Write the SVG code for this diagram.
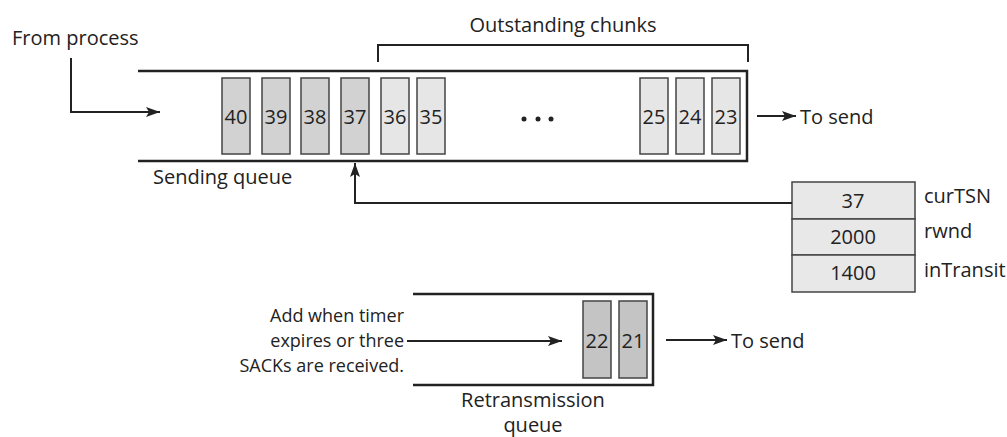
<svg xmlns="http://www.w3.org/2000/svg" width="1007" height="437" viewBox="0 0 1007 437">
<defs>
<marker id="ah" viewBox="0 0 14 10" refX="14" refY="5" markerWidth="14" markerHeight="10" markerUnits="userSpaceOnUse" orient="auto">
<path d="M0,0 L14,5 L0,10 L3,5 Z" fill="#222"/>
</marker>
<style>
text{font-family:"Open Sans","Liberation Sans",sans-serif;font-size:20px;fill:#222}
.n{text-anchor:middle}
.r{text-anchor:end;font-size:18px}
.line{stroke:#222;stroke-width:2;fill:none}
.wall{stroke:#222;stroke-width:2.5;fill:none}
.dk{fill:#d2d2d2;stroke:#444;stroke-width:1.5}
.lt{fill:#e6e6e6;stroke:#444;stroke-width:1.5}
.rt{fill:#c4c4c4;stroke:#444;stroke-width:1.5}
.tb{fill:#e8e8e8;stroke:#444;stroke-width:1.5}
</style>
</defs>
<rect width="1007" height="437" fill="#fff"/>

<g id="sending-queue">
<path class="wall" d="M138,71 H747 V161 H138"/>
<text x="153" y="184">Sending queue</text>
</g>

<g id="outstanding">
<path class="line" d="M378,62 V45 H748 V62" stroke-width="1.5"/>
<text class="n" x="563" y="32">Outstanding chunks</text>
</g>

<g id="chunk-40"><rect class="dk" x="222" y="78" width="28" height="76"/><text class="n" x="236" y="124">40</text></g>
<g id="chunk-39"><rect class="dk" x="262" y="78" width="28" height="76"/><text class="n" x="276" y="124">39</text></g>
<g id="chunk-38"><rect class="dk" x="301" y="78" width="28" height="76"/><text class="n" x="315" y="124">38</text></g>
<g id="chunk-37"><rect class="dk" x="341" y="78" width="28" height="76"/><text class="n" x="355" y="124">37</text></g>
<g id="chunk-36"><rect class="lt" x="381" y="78" width="28" height="76"/><text class="n" x="395" y="124">36</text></g>
<g id="chunk-35"><rect class="lt" x="417" y="78" width="28" height="76"/><text class="n" x="431" y="124">35</text></g>
<g id="dots"><circle cx="524" cy="119" r="2.5" fill="#222"/><circle cx="538" cy="119" r="2.5" fill="#222"/><circle cx="551" cy="119" r="2.5" fill="#222"/></g>
<g id="chunk-25"><rect class="lt" x="640" y="78" width="28" height="76"/><text class="n" x="654" y="124">25</text></g>
<g id="chunk-24"><rect class="lt" x="676" y="78" width="28" height="76"/><text class="n" x="690" y="124">24</text></g>
<g id="chunk-23"><rect class="lt" x="712" y="78" width="28" height="76"/><text class="n" x="726" y="124">23</text></g>

<g id="from-process"><text x="12" y="45">From process</text></g>
<g id="to-send-1"><text x="800" y="124">To send</text></g>

<g id="table">
<rect class="tb" x="792" y="182" width="123" height="37"/>
<rect class="tb" x="792" y="219" width="123" height="36"/>
<rect class="tb" x="792" y="255" width="123" height="37"/>
<text class="n" x="853" y="208">37</text>
<text class="n" x="853" y="244">2000</text>
<text class="n" x="853" y="280">1400</text>
<text x="924" y="203">curTSN</text>
<text x="924" y="238">rwnd</text>
<text x="924" y="277">inTransit</text>
</g>

<g id="retransmission-queue">
<path class="wall" d="M413,294 H653 V385 H413"/>
<text class="n" x="533" y="407">Retransmission</text>
<text class="n" x="533" y="432">queue</text>
</g>
<g id="chunk-22"><rect class="rt" x="583" y="301" width="28" height="77"/><text class="n" x="597" y="348">22</text></g>
<g id="chunk-21"><rect class="rt" x="619" y="301" width="28" height="77"/><text class="n" x="633" y="348">21</text></g>

<g id="add-note">
<text class="r" x="404" y="322">Add when timer</text>
<text class="r" x="404" y="347">expires or three</text>
<text class="r" x="404" y="372">SACKs are received.</text>
</g>
<g id="to-send-2"><text x="731" y="348">To send</text></g>

<g id="connectors">
<path class="line" d="M71,58 V112 H160" marker-end="url(#ah)"/>
<path class="line" d="M757,116 H796" marker-end="url(#ah)"/>
<path class="line" d="M792,203 H355 V163" stroke-width="1.5" marker-end="url(#ah)"/>
<path class="line" d="M407,341 H562" marker-end="url(#ah)"/>
<path class="line" d="M666,340 H727" marker-end="url(#ah)"/>
</g>
</svg>
